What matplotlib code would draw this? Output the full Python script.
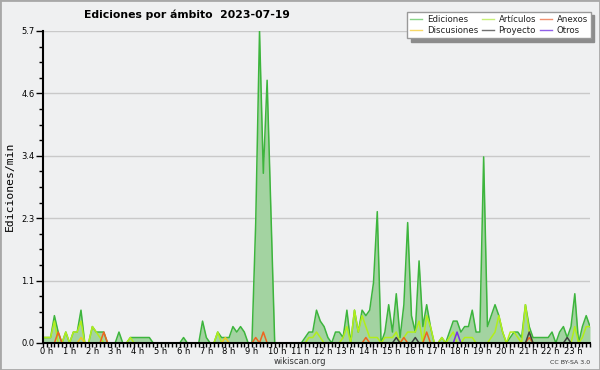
import numpy as np
import matplotlib
matplotlib.use('Agg')
import matplotlib.pyplot as plt
from matplotlib.lines import Line2D
from matplotlib.patches import Rectangle
from matplotlib.transforms import ScaledTranslation

# ediciones por minuto, una muestra cada 10 minutos (una fila = una hora)
ediciones = [
    0.1, 0.1, 0.1, 0.5, 0.2, 0.0,
    0.2, 0.0, 0.2, 0.2, 0.6, 0.0,
    0.0, 0.3, 0.2, 0.2, 0.2, 0.0,
    0.0, 0.0, 0.2, 0.0, 0.0, 0.1,
    0.1, 0.1, 0.1, 0.1, 0.1, 0.0,
    0.0, 0.0, 0.0, 0.0, 0.0, 0.0,
    0.0, 0.1, 0.0, 0.0, 0.0, 0.0,
    0.4, 0.1, 0.0, 0.0, 0.2, 0.1,
    0.1, 0.1, 0.3, 0.2, 0.3, 0.2,
    0.0, 0.0, 2.2, 5.7, 3.1, 4.8,
    2.4, 0.0, 0.0, 0.0, 0.0, 0.0,
    0.0, 0.0, 0.0, 0.1, 0.2, 0.2,
    0.6, 0.4, 0.3, 0.1, 0.0, 0.2,
    0.2, 0.1, 0.6, 0.0, 0.6, 0.2,
    0.6, 0.5, 0.6, 1.1, 2.4, 0.0,
    0.2, 0.7, 0.2, 0.9, 0.1, 0.7,
    2.2, 0.5, 0.2, 1.5, 0.3, 0.7,
    0.3, 0.0, 0.0, 0.1, 0.0, 0.2,
    0.4, 0.4, 0.2, 0.3, 0.3, 0.6,
    0.2, 0.2, 3.4, 0.3, 0.5, 0.7,
    0.5, 0.2, 0.0, 0.1, 0.2, 0.2,
    0.1, 0.7, 0.3, 0.1, 0.1, 0.1,
    0.1, 0.1, 0.2, 0.0, 0.2, 0.3,
    0.1, 0.3, 0.9, 0.0, 0.3, 0.5,
    0.3,
]

articulos = [
    0.1, 0.1, 0.1, 0.4, 0.0, 0.0,
    0.2, 0.0, 0.2, 0.2, 0.4, 0.0,
    0.0, 0.3, 0.2, 0.1, 0.0, 0.0,
    0.0, 0.0, 0.0, 0.0, 0.0, 0.1,
    0.0, 0.0, 0.0, 0.0, 0.0, 0.0,
    0.0, 0.0, 0.0, 0.0, 0.0, 0.0,
    0.0, 0.0, 0.0, 0.0, 0.0, 0.0,
    0.0, 0.0, 0.0, 0.0, 0.2, 0.0,
    0.0, 0.0, 0.0, 0.0, 0.0, 0.0,
    0.0, 0.0, 0.0, 0.0, 0.0, 0.0,
    0.0, 0.0, 0.0, 0.0, 0.0, 0.0,
    0.0, 0.0, 0.0, 0.0, 0.1, 0.1,
    0.2, 0.1, 0.0, 0.0, 0.0, 0.0,
    0.0, 0.1, 0.3, 0.0, 0.6, 0.2,
    0.5, 0.3, 0.1, 0.1, 0.1, 0.0,
    0.1, 0.1, 0.1, 0.2, 0.0, 0.1,
    0.2, 0.2, 0.2, 0.4, 0.0, 0.5,
    0.3, 0.0, 0.0, 0.1, 0.0, 0.1,
    0.2, 0.0, 0.0, 0.1, 0.1, 0.1,
    0.0, 0.0, 0.0, 0.0, 0.1, 0.2,
    0.5, 0.2, 0.0, 0.2, 0.2, 0.1,
    0.0, 0.7, 0.2, 0.0, 0.0, 0.0,
    0.0, 0.0, 0.0, 0.0, 0.0, 0.0,
    0.0, 0.0, 0.3, 0.0, 0.1, 0.3,
    0.3,
]

# series con pocos valores: (muestra, valor)
anexos_idx = [4, 16, 56, 58, 85, 95, 101, 128]
anexos_val = [0.2, 0.2, 0.1, 0.2, 0.1, 0.1, 0.2, 0.1]
discusiones_idx = [10, 48]
discusiones_val = [0.1, 0.1]
proyecto_idx = [93, 98, 128, 138]
proyecto_val = [0.1, 0.1, 0.2, 0.1]
otros_idx = [109]
otros_val = [0.2]

yticks = [0, 1.14, 2.28, 3.42, 4.56, 5.7]
ytick_labels = ['0.0', '1.1', '2.3', '3.4', '4.6', '5.7']
hours = list(range(24))
hour_labels = ['%d h' % h for h in hours]

n = len(ediciones)
x = np.arange(n) / 6.0

def sparse(idx, val):
    s = np.zeros(n)
    s[idx] = val
    return s

anexos = sparse(anexos_idx, anexos_val)
discusiones = sparse(discusiones_idx, discusiones_val)
proyecto = sparse(proyecto_idx, proyecto_val)
otros = sparse(otros_idx, otros_val)

bg = '#eff0f1'
fig = plt.figure(figsize=(6, 3.7), dpi=100, facecolor=bg)
ax = fig.add_axes([43/600, 1-343/370, (590-43)/600, (343-31)/370])
ax.set_facecolor(bg)

ax.fill_between(x, ediciones, color='#a3d3a1', lw=0)
ax.plot(x, ediciones, color='#3db53d', lw=1.1)
ax.plot(x, articulos, color='#b2ee1c', lw=1.1)
ax.plot(x, anexos, color='#ee6420', lw=1.1)
ax.plot(x, discusiones, color='#f0c828', lw=1.1)
ax.plot(x, proyecto, color='#404040', lw=1.1)
ax.plot(x, otros, color='#7a30e8', lw=1.1)

ax.set_xlim(0, 24)
ax.set_ylim(0, 5.7)
ax.set_yticks(yticks)
ax.set_yticklabels(ytick_labels)
ax.set_yticks(np.arange(0, 5.71, 0.285), minor=True)
ax.set_xticks(hours)
ax.set_xticklabels(hour_labels)
ax.set_xticks(np.arange(0, 24.01, 1/6), minor=True)

ax.yaxis.grid(True, color='#c9c9c9', lw=1)
ax.set_axisbelow(True)
for s in ['top', 'right']:
    ax.spines[s].set_visible(False)
for s in ['left', 'bottom']:
    ax.spines[s].set_linewidth(1.5)
    ax.spines[s].set_zorder(5)

ax.tick_params(axis='y', which='major', length=5, width=1, labelsize=6, pad=1)
ax.tick_params(axis='y', which='minor', length=3, width=1)
ax.tick_params(axis='x', which='major', length=3, width=1, labelsize=6, pad=0.2)
ax.tick_params(axis='x', which='minor', length=3, width=1)
off = ScaledTranslation(-3/100, 0, fig.dpi_scale_trans)
for lab in ax.get_xticklabels():
    lab.set_ha('left')
    lab.set_transform(lab.get_transform() + off)

fig.text(187/600, 1-15/370, 'Ediciones por ámbito  2023-07-19', ha='center', va='center',
         fontsize=7.8, fontweight='bold')
fig.text(10/600, 1-186/370, 'Ediciones/min', rotation=90, ha='center', va='center',
         family='DejaVu Sans Mono', fontsize=8.2)
fig.text(300/600, 1-362/370, 'wikiscan.org', ha='center', va='center', fontsize=6, color='#333333')
fig.text(590/600, 1-362/370, 'CC BY-SA 3.0', ha='right', va='center', fontsize=4.5, color='#333333')

handles = [
    Line2D([], [], color='#88d488', lw=1),
    Line2D([], [], color='#f8d868', lw=1),
    Line2D([], [], color='#c8f078', lw=1),
    Line2D([], [], color='#707070', lw=1),
    Line2D([], [], color='#f09070', lw=1),
    Line2D([], [], color='#9060e8', lw=1),
]
labels = ['Ediciones', 'Discusiones', 'Artículos', 'Proyecto', 'Anexos', 'Otros']
leg = fig.legend(handles, labels, ncol=3, loc='upper right', bbox_to_anchor=(591/600, 1-12/370),
                 fontsize=6.2, frameon=True, fancybox=False, edgecolor='#999999', framealpha=1,
                 shadow={'color': '#8c8c8c', 'alpha': 1, 'ox': 2.5, 'oy': -2.5},
                 handlelength=1.4, columnspacing=0.5, handletextpad=0.5, labelspacing=0.25,
                 borderpad=0.35, borderaxespad=0)
for t in leg.get_texts():
    t.set_color('#222222')

fig.patches.append(Rectangle((0, 0), 1, 1, transform=fig.transFigure, fill=False,
                             edgecolor='#a8a8a8', linewidth=2))

fig.savefig('out.png', dpi=100, facecolor=bg)
